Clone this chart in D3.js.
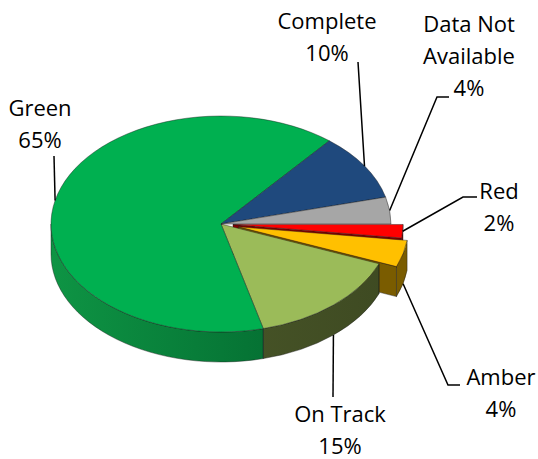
<!DOCTYPE html>
<html>
<head>
<meta charset="utf-8">
<script src="https://cdn.jsdelivr.net/npm/d3@7"></script>
<style>
  body { margin: 0; background: #fff; }
  svg { display: block; }
  text { font-family: 'Open Sans', sans-serif; font-size: 22px; fill: #000; }
</style>
</head>
<body>
<svg></svg>
<script>
// data, in drawing order (clockwise from 3 o'clock)
const categories = ['Red', 'Amber', 'On Track', 'Green', 'Complete', 'Data Not Available'];
const shares = [2, 4, 15, 65, 10, 4];
const labelLines = [['Red', '2%'], ['Amber', '4%'], ['On Track', '15%'], ['Green', '65%'], ['Complete', '10%'], ['Data Not', 'Available', '4%']];

const topColors = ['#ff0000', '#ffc000', '#9bbb59', '#00b050', '#1f497d', '#a6a6a6'];
const sideColors = [['#b00000', '#800000'], ['#94700a', '#7a5c00'], ['#505e2c', '#3e4a22'], ['#0e9444', '#005e2a'], ['#15355c', '#0f2845'], ['#808080', '#606060']];
const explode = [12, 18, 0, 0, 0, 0];

// layout of labels: text centre, first baseline, leader points (label side), anchor on wall or top
const labelLayout = [
  { x: 499, y: 199, lead: [[477, 197], [463, 197]], wall: false },
  { x: 501, y: 385, lead: [[460, 385], [448, 385]], wall: true },
  { x: 340, y: 422, lead: [[333, 397]], wall: true },
  { x: 40, y: 116, lead: [[54, 156]], wall: false },
  { x: 327, y: 29, lead: [[358, 62]], wall: false },
  { x: 469, y: 32, lead: [[449, 97], [437, 97]], wall: false }
];

const w = 538;
const h = 459;
const cx = 221;
const cy = 224;
const rx = 170;
const ry = 108;
const depth = 30;
const lineH = 32;

const svg = d3.select('svg').attr('width', w).attr('height', h);
const defs = svg.append('defs');

const pie = d3.pie().sort(null).startAngle(Math.PI / 2).endAngle(Math.PI * 2.5);
const slices = pie(shares).map((d, i) => {
  const t0 = d.startAngle - Math.PI / 2;
  const t1 = d.endAngle - Math.PI / 2;
  const tm = (t0 + t1) / 2;
  return {
    i, t0, t1, tm,
    dx: explode[i] * Math.cos(tm),
    dy: explode[i] * (ry / rx) * Math.sin(tm)
  };
});

const pt = (s, t, z = 0) => [cx + s.dx + rx * Math.cos(t), cy + s.dy + ry * Math.sin(t) + z];

function topPath(s) {
  const a = pt(s, s.t0);
  const b = pt(s, s.t1);
  const large = s.t1 - s.t0 > Math.PI ? 1 : 0;
  return `M${cx + s.dx},${cy + s.dy}L${a}A${rx},${ry} 0 ${large} 1 ${b}Z`;
}

function sidePath(s) {
  const a0 = Math.max(s.t0, 0);
  const a1 = Math.min(s.t1, Math.PI);
  if (a1 <= a0) return null;
  const p0 = pt(s, a0), p1 = pt(s, a1);
  const q1 = pt(s, a1, depth), q0 = pt(s, a0, depth);
  return `M${p0}A${rx},${ry} 0 0 1 ${p1}L${q1}A${rx},${ry} 0 0 0 ${q0}Z`;
}

// radial face at the end angle (only shows for exploded slices)
function endFacePath(s) {
  const c0 = [cx + s.dx, cy + s.dy];
  const p = pt(s, s.t1);
  return d3.line()([c0, p, [p[0], p[1] + depth], [c0[0], c0[1] + depth]]) + 'Z';
}

slices.forEach((s) => {
  const g = defs.append('linearGradient')
    .attr('id', 'side' + s.i)
    .attr('gradientUnits', 'userSpaceOnUse')
    .attr('x1', cx - rx).attr('y1', 0)
    .attr('x2', cx + rx).attr('y2', 0);
  g.append('stop').attr('offset', '0%').attr('stop-color', sideColors[s.i][0]);
  g.append('stop').attr('offset', '100%').attr('stop-color', sideColors[s.i][1]);
});

const flat = slices.filter((s) => explode[s.i] === 0);
const popped = slices.filter((s) => explode[s.i] > 0);

const edge = (sel) => sel.attr('stroke', '#1a1a1a').attr('stroke-width', 0.6).attr('stroke-opacity', 0.7);

const pieG = svg.append('g');

// end faces of exploded slices sit behind the neighbouring solid
popped.forEach((s) => {
  pieG.append('path').attr('d', endFacePath(s)).attr('fill', sideColors[s.i][1]).call(edge);
});

flat.forEach((s) => {
  const sp = sidePath(s);
  if (sp) pieG.append('path').attr('d', sp).attr('fill', `url(#side${s.i})`).call(edge);
});
// seam lines between adjacent front walls
flat.forEach((s) => {
  if (s.t0 > 0 && s.t0 < Math.PI) {
    const p = pt(s, s.t0);
    pieG.append('line')
      .attr('x1', p[0]).attr('y1', p[1]).attr('x2', p[0]).attr('y2', p[1] + depth)
      .call(edge);
  }
});
pieG.selectAll('path.top')
  .data(flat)
  .enter()
  .append('path')
  .attr('class', 'top')
  .attr('d', topPath)
  .attr('fill', (s) => topColors[s.i])
  .call(edge);

popped.forEach((s) => {
  const sp = sidePath(s);
  if (sp) pieG.append('path').attr('d', sp).attr('fill', `url(#side${s.i})`).call(edge);
  pieG.append('path').attr('d', topPath(s)).attr('fill', topColors[s.i]).call(edge);
});

// leader lines and labels
slices.forEach((s) => {
  const lay = labelLayout[s.i];
  const anchor = pt(s, s.tm, lay.wall ? depth : 0);
  svg.append('path')
    .attr('d', d3.line()(lay.lead.concat([anchor])))
    .attr('fill', 'none')
    .attr('stroke', '#000')
    .attr('stroke-width', 1.5);

  const t = svg.append('text').attr('text-anchor', 'middle');
  labelLines[s.i].forEach((line, k) => {
    t.append('tspan').attr('x', lay.x).attr('y', lay.y + k * lineH).text(line);
  });
});
</script>
</body>
</html>
